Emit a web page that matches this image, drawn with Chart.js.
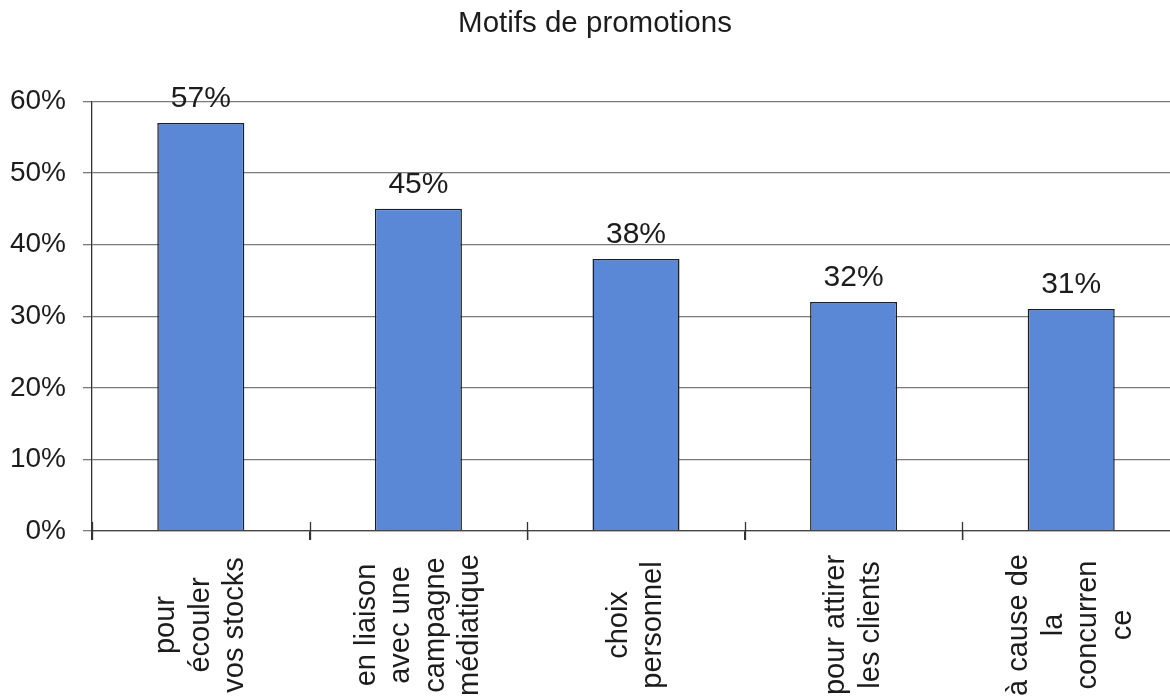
<!DOCTYPE html>
<html>
<head>
<meta charset="utf-8">
<title>Motifs de promotions</title>
<script src="https://cdn.jsdelivr.net/npm/chart.js@4/dist/chart.umd.min.js"></script>
<style>
  html, body { margin: 0; padding: 0; background: #fff; overflow: hidden; }
  #mycanvas { display: block; }
</style>
</head>
<body>
<canvas id="mycanvas" width="1200" height="699"></canvas>
<script>
// categories (each one split into lines, as they are printed under the axis)
var motifs = [
    ["pour", "écouler", "vos stocks"],
    ["en liaison", "avec une", "campagne", "médiatique"],
    ["choix", "personnel"],
    ["pour attirer", "les clients"],
    ["à cause de", "la", "concurren", "ce"]
];
var pourcentages = [57, 45, 38, 32, 31];
var yTicks = [0, 10, 20, 30, 40, 50, 60];

var police = "'Liberation Sans', Arial, Helvetica, sans-serif";
var encre = "#1c1c1c";

// labels above the bars, category names written bottom-to-top, small ticks across the axis
var etiquettes = {
    id: 'etiquettes',
    afterDraw: function(chart) {
        var ctx = chart.ctx;
        var xs = chart.scales.x;
        var area = chart.chartArea;
        var meta = chart.getDatasetMeta(0);

        ctx.save();
        // ticks at category boundaries, crossing the axis
        ctx.strokeStyle = "#333";
        ctx.lineWidth = 1.3;
        for (var b = 0; b <= motifs.length; b++) {
            var bx = Math.round(area.left + b * (area.right - area.left) / motifs.length) + 0.5;
            ctx.beginPath();
            ctx.moveTo(bx, area.bottom - 9);
            ctx.lineTo(bx, area.bottom + 9);
            ctx.stroke();
        }

        // value labels
        ctx.fillStyle = encre;
        ctx.font = "30px " + police;
        ctx.textAlign = "center";
        ctx.textBaseline = "alphabetic";
        for (var i = 0; i < meta.data.length; i++) {
            var bar = meta.data[i];
            ctx.fillText(pourcentages[i] + "%", bar.x, bar.y - 16);
        }

        // category names, rotated
        ctx.font = "29px " + police;
        ctx.textBaseline = "middle";
        var lh = 34.5;
        for (var k = 0; k < motifs.length; k++) {
            var cx = xs.getPixelForValue(k);
            var lignes = motifs[k];
            ctx.save();
            ctx.translate(cx, 625);
            ctx.rotate(-Math.PI / 2);
            for (var j = 0; j < lignes.length; j++) {
                ctx.fillText(lignes[j], 0, (j - (lignes.length - 1) / 2) * lh);
            }
            ctx.restore();
        }
        ctx.restore();
    }
};

var chartdata = {
    labels: motifs.map(function(m) { return m.join(" "); }),
    datasets: [{
        data: pourcentages,
        backgroundColor: "#5b88d6",
        borderColor: "#1e1e1e",
        borderWidth: 1.5,
        barPercentage: 0.4,
        categoryPercentage: 1.0
    }]
};

var ctx = document.getElementById("mycanvas");

var graphe = new Chart(ctx, {
    type: 'bar',
    data: chartdata,
    plugins: [etiquettes],
    options: {
        responsive: false,
        animation: false,
        devicePixelRatio: 1,
        layout: { padding: { left: 10, right: 20, top: 0, bottom: 0 } },
        plugins: {
            legend: { display: false },
            tooltip: { enabled: false },
            title: {
                display: true,
                text: "Motifs de promotions",
                color: encre,
                font: { family: police, size: 29.5, weight: 'normal' },
                padding: { top: 6, bottom: 60 }
            }
        },
        scales: {
            x: {
                offset: true,
                ticks: { display: false },
                grid: {
                    offset: true,
                    drawOnChartArea: false,
                    drawTicks: true,
                    tickLength: 9,
                    color: "#333",
                    lineWidth: 1.3
                },
                border: { display: true, color: "#444", width: 1.3 },
                afterFit: function(scale) { scale.height = 168; }
            },
            y: {
                min: 0,
                max: 60,
                afterBuildTicks: function(scale) {
                    scale.ticks = yTicks.map(function(v) { return { value: v }; });
                },
                ticks: {
                    color: encre,
                    padding: 17,
                    font: { family: police, size: 28 },
                    callback: function(v) { return v + "%"; }
                },
                grid: {
                    color: "#7a7a7a",
                    lineWidth: 1.3,
                    tickLength: 9
                },
                border: { display: true, color: "#333", width: 1.3 },
                afterFit: function(scale) { scale.width = 82; }
            }
        }
    }
});
</script>
</body>
</html>
